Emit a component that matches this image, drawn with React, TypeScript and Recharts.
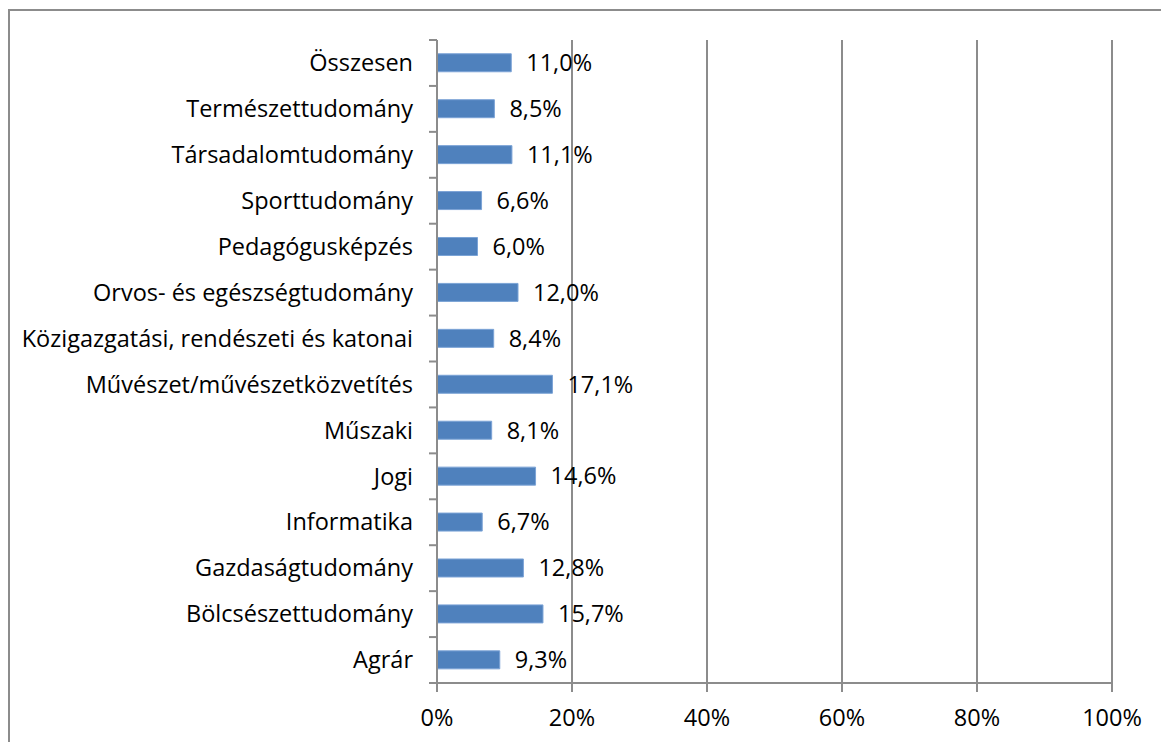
import { BarChart, Bar, XAxis, YAxis, CartesianGrid, LabelList } from "recharts";

const categories = [
  "Összesen",
  "Természettudomány",
  "Társadalomtudomány",
  "Sporttudomány",
  "Pedagógusképzés",
  "Orvos- és egészségtudomány",
  "Közigazgatási, rendészeti és katonai",
  "Művészet/művészetközvetítés",
  "Műszaki",
  "Jogi",
  "Informatika",
  "Gazdaságtudomány",
  "Bölcsészettudomány",
  "Agrár",
];

const shares = [11.0, 8.5, 11.1, 6.6, 6.0, 12.0, 8.4, 17.1, 8.1, 14.6, 6.7, 12.8, 15.7, 9.3];

const xTicks = [0, 20, 40, 60, 80, 100];

const data = categories.map((name, i) => ({ name, value: shares[i] }));

const FONT = "'Open Sans', sans-serif";
const FS = 23.5;
const GRAY = "#8c8c8c";
const TOP = 40;
const PLOT_H = 643;
const AXIS_X = 437;
const BAND = PLOT_H / categories.length;

const fmt = (v: number) => v.toFixed(1).replace(".", ",") + "%";

function CategoryTick(props: any) {
  const { y, payload, index } = props;
  const top = y - BAND / 2;
  return (
    <g>
      <line x1={AXIS_X - 8} x2={AXIS_X} y1={top} y2={top} stroke={GRAY} strokeWidth={2} />
      {index === categories.length - 1 && (
        <line x1={AXIS_X - 8} x2={AXIS_X} y1={top + BAND} y2={top + BAND} stroke={GRAY} strokeWidth={2} />
      )}
      <text x={413} y={y} dy="0.35em" textAnchor="end" fontSize={FS} fontFamily={FONT} fill="#000">
        {payload.value}
      </text>
    </g>
  );
}

export default function App() {
  return (
    <div
      style={{
        position: "absolute",
        left: 0,
        top: 0,
        width: 1161,
        height: 742,
        overflow: "hidden",
        background: "#fff",
      }}
    >
      <div
        style={{
          position: "absolute",
          left: 8,
          top: 9,
          width: 1170,
          height: 800,
          border: `2px solid ${GRAY}`,
          boxSizing: "border-box",
        }}
      />
      <div style={{ position: "absolute", left: 0, top: 0 }}>
        <BarChart
          width={1161}
          height={742}
          data={data}
          layout="vertical"
          margin={{ top: TOP, right: 49, bottom: 0, left: 0 }}
          barCategoryGap="30%"
        >
          <CartesianGrid horizontal={false} vertical stroke={GRAY} strokeWidth={2} />
          <XAxis
            type="number"
            domain={[0, 100]}
            ticks={xTicks}
            tickFormatter={(v: number) => `${v}%`}
            height={59}
            tickSize={9}
            tickMargin={17}
            axisLine={{ stroke: GRAY, strokeWidth: 2 }}
            tickLine={{ stroke: GRAY, strokeWidth: 2 }}
            tick={{ fill: "#000", fontSize: FS, fontFamily: FONT }}
          />
          <YAxis
            type="category"
            dataKey="name"
            width={AXIS_X}
            interval={0}
            axisLine={{ stroke: GRAY, strokeWidth: 2 }}
            tickLine={false}
            tick={<CategoryTick />}
          />
          <Bar dataKey="value" fill="#4f81bd" stroke="#7ba3d6" strokeWidth={1} isAnimationActive={false}>
            <LabelList
              dataKey="value"
              position="right"
              offset={15}
              formatter={(v: any) => fmt(Number(v))}
              style={{ fill: "#000", stroke: "none", fontSize: FS, fontFamily: FONT }}
            />
          </Bar>
        </BarChart>
      </div>
    </div>
  );
}
